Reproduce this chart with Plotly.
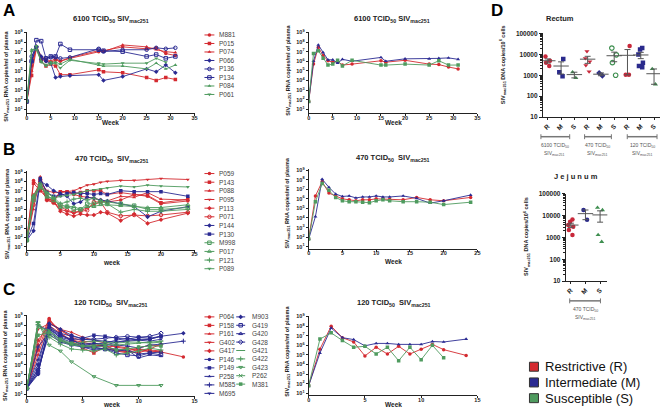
import numpy as np
import plotly.graph_objects as go

W, H = 664, 411
FONT = "Arial, 'Liberation Sans', sans-serif"
RED, BLUE, GREEN = "#d42a30", "#2a2a92", "#4f9b5f"
AXC = "#222222"
GRAY = "#555555"
LEGTXT = "#444444"

# ---------------- Panel A : 6100 TCID50 (log10 RNA copies/ml) ----------------
WEEKS_A = [0, 1, 2, 3, 4, 5, 6, 7, 9, 15, 16, 20, 25, 27, 29, 31]
A_M881 = [1.8, 5.5, 7.5, 6.2, 6.0, 5.9, 6.1, 6.0, 6.3, 7.0, 7.1, 7.5, 7.3, 7.4, 6.8, 6.6]
A_P015 = [1.8, 4.5, 7.3, 6.0, 5.5, 5.7, 5.5, 4.6, 4.6, 5.1, 4.9, 4.8, 4.3, 4.0, 4.3, 4.1]
A_P074 = [1.8, 5.0, 7.6, 6.5, 6.2, 6.0, 6.3, 6.0, 6.4, 7.1, 7.0, 7.7, 7.5, 7.2, 7.0, 6.9]
A_P066 = [1.8, 6.0, 7.5, 6.5, 6.0, 5.8, 4.3, 4.4, 4.5, 4.6, 4.0, 4.4, 5.2, 4.9, 5.6, 4.8]
A_P136 = [1.8, 6.5, 7.5, 6.2, 6.3, 6.4, 6.4, 6.3, 6.4, 7.3, 7.0, 7.2, 7.2, 7.4, 7.3, 7.4]
A_P134 = [1.8, 6.0, 8.2, 8.1, 6.3, 6.5, 6.5, 7.8, 7.2, 7.2, 7.1, 7.0, 6.5, 6.7, 6.3, 6.5]
A_P084 = [1.8, 7.2, 7.2, 6.0, 5.6, 5.9, 5.9, 5.7, 6.2, 5.6, 5.5, 5.5, 5.2, 5.8, 5.2, 5.6]
A_P061 = [1.8, 7.0, 7.6, 5.9, 5.5, 5.7, 5.8, 5.3, 6.1, 5.8, 5.7, 5.8, 5.8, 6.3, 5.9]
A_MEAN_R = [1.8, 5.7, 7.45, 6.6, 6.05, 5.9, 6.0, 5.6, 5.7, 6.05, 5.9, 6.1, 5.7, 5.65, 5.4, 5.2]
A_MEAN_M = [1.8, 6.0, 7.7, 6.9, 6.15, 6.15, 5.8, 6.2, 6.0, 6.4, 6.0, 6.25, 6.25, 6.3, 6.35, 6.2]
A_MEAN_S = [1.8, 6.8, 7.1, 6.3, 5.6, 5.7, 6.1, 5.5, 6.1, 5.6, 5.6, 5.7, 5.6, 6.05, 5.6, 5.6]

# ---------------- Panel B : 470 TCID50 ----------------
WEEKS_B = [0, 1, 2, 3, 4, 5, 6, 7, 8, 9, 10, 11, 12, 14, 16, 18, 20, 24]
B_P059 = [1.7, 8.1, 7.3, 6.1, 6.0, 6.9, 6.9, 6.6, 6.4, 6.3, 6.2, 6.0, 5.8, 6.0, 6.6, 6.4, 5.6, 5.9]
B_P143 = [1.7, 7.8, 7.0, 6.2, 5.8, 6.9, 6.9, 6.7, 6.8, 7.0, 7.0, 7.0, 6.6, 6.8, 6.6, 6.5, 5.7, 6.1]
B_P088 = [1.7, 5.0, 8.5, 6.5, 5.7, 5.0, 4.8, 4.6, 4.8, 5.2, 5.5, 5.8, 5.9, 6.4, 6.3, 6.8, 6.1, 6.0]
B_P095 = [1.7, 6.0, 8.0, 7.0, 6.8, 6.8, 6.9, 7.0, 7.3, 7.6, 7.7, 7.9, 8.0, 8.1, 8.1, 8.2, 8.3, 8.2]
B_P113 = [1.7, 6.5, 7.9, 6.0, 5.8, 4.8, 4.5, 4.3, 4.5, 4.4, 4.4, 4.7, 4.6, 3.8, 4.5, 3.5, 3.9, 4.6]
B_P071 = [1.7, 5.5, 8.2, 6.0, 5.7, 5.3, 4.9, 4.7, 4.8, 4.9, 5.8, 5.8, 4.7, 4.3, 4.4, 4.3, 4.4, 4.7]
B_P144 = [1.7, 2.7, 8.0, 7.6, 7.0, 6.7, 6.4, 5.6, 5.8, 6.3, 6.2, 6.0, 5.9, 5.6, 5.3, 4.2, 4.8, 5.3]
B_P130 = [1.7, 3.5, 8.3, 6.8, 6.4, 6.5, 6.7, 6.8, 6.7, 6.7, 6.6, 6.7, 6.6, 7.0, 6.9, 6.9, 6.9, 6.4]
B_M998 = [1.7, 6.0, 7.5, 6.5, 6.0, 5.5, 5.3, 5.0, 5.0, 5.6, 5.6, 5.8, 5.8, 5.6, 5.4, 5.0, 5.0, 5.2]
B_P017 = [1.7, 6.3, 7.8, 6.3, 6.2, 5.2, 5.3, 5.3, 5.0, 5.3, 5.3, 5.5, 5.5, 5.4, 5.3, 5.2, 5.2, 5.5]
B_P121 = [1.7, 6.4, 7.3, 6.8, 6.3, 5.6, 5.8, 6.1, 6.2, 6.0, 6.2, 5.9, 5.6, 4.7, 5.0, 4.8, 4.8, 5.0]
B_P089 = [1.7, 6.5, 7.5, 6.8, 6.2, 6.4, 6.5, 6.6, 6.8, 7.0, 7.1, 7.2, 7.3, 7.5, 7.4, 7.6, 7.5, 7.4]
B_MEAN_R = [1.8, 6.3, 7.8, 6.6, 6.3, 6.0, 5.9, 5.8, 5.9, 5.9, 6.0, 6.0, 5.95, 5.9, 6.15, 5.9, 5.8, 6.15]
B_MEAN_M = [1.8, 4.15, 8.05, 7.2, 6.5, 6.25, 6.3, 6.1, 6.2, 6.2, 6.3, 6.2, 6.2, 6.3, 6.05, 5.55, 5.8, 6.4]
B_MEAN_S = [1.8, 5.7, 7.6, 6.9, 6.15, 5.8, 5.7, 5.7, 5.65, 5.6, 5.8, 5.9, 5.8, 5.7, 5.7, 5.65, 5.4, 5.65]

# ---------------- Panel C : 120 TCID50 ----------------
WEEKS_C = [0, 1, 2, 3, 4, 5, 6, 7, 8, 9, 10, 11, 12, 14]
C_P064 = [1.6, 6.0, 8.7, 7.2, 6.4, 5.8, 5.9, 6.0, 5.4, 5.2, 5.6, 5.3, 5.3, 4.8]
C_P158 = [1.6, 5.5, 8.5, 7.5, 6.8, 5.7, 5.2, 5.8, 5.9, 5.7, 5.4, 5.4, 5.3]
C_P161 = [1.6, 5.0, 8.3, 7.6, 7.3, 6.8, 6.5, 6.2, 5.8, 5.6, 5.6, 5.5, 5.4]
C_G402 = [1.6, 7.6, 8.2, 7.6, 6.8, 6.4, 6.3, 5.7, 5.4, 5.4, 5.7, 6.0, 5.9]
C_G417 = [1.6, 6.5, 8.0, 7.2, 6.5, 6.3, 6.0, 5.9, 5.5, 5.3, 5.2, 5.6, 6.1]
C_P146 = [1.6, 3.0, 8.0, 7.0, 6.5, 6.1, 6.2, 6.0, 6.3, 6.5, 6.6, 6.6, 6.9]
C_P149 = [1.6, 3.2, 7.7, 7.2, 6.9, 6.7, 7.0, 6.9, 6.7, 6.6, 6.8, 6.7, 6.9]
C_P258 = [1.6, 4.5, 7.9, 6.7, 6.3, 5.8, 5.5, 5.6, 5.4, 5.5, 4.7, 5.0, 4.9]
C_M585 = [1.6, 5.8, 7.3, 6.4, 6.1, 5.9, 5.8, 6.0, 6.0, 5.9, 5.7, 6.0, 6.1, 6.4]
C_M695 = [1.6, 8.0, 7.5, 6.6, 6.0, 6.0, 6.1, 6.2, 6.5, 6.7, 6.5, 6.4, 6.6]
C_M903 = [1.6, 4.0, 8.2, 7.6, 7.0, 6.6, 6.5, 6.4, 6.3, 6.4, 6.5, 6.6, 6.9, 7.2]
C_G419 = [1.6, 3.2, 7.6, 6.8, 6.5, 6.0, 5.8, 5.6, 5.2, 5.0, 4.9, 5.2, 5.0]
C_G420 = [1.6, 3.5, 7.1, 6.3, 6.0, 5.8, 5.7, 5.6, 5.6, 5.5, 5.1, 5.2, 5.3]
C_G428 = [1.6, 3.6, 7.6, 7.0, 6.6, 6.6, 6.6, 6.7, 6.8, 6.9, 6.8, 6.9, 7.2]
C_G421 = [1.6, 8.3, 7.0, 6.4, 6.0, 5.9, 6.0, 6.1, 6.0, 6.1, 6.2, 6.3, 6.4]
C_G422 = [1.6, 8.1, 6.8, 6.1, 5.6, 5.5, 5.4, 5.6, 5.0, 5.2, 5.4, 5.7, 5.5]
C_G423 = [1.6, 8.3, 6.0, 5.4, 4.3, None, 2.8, None, 1.9, None, 1.9, None, 1.9]
C_P262 = [1.6, 7.8, 7.5, 6.5, 6.1, 6.3, 6.4, 6.3, 6.2, 6.3, 6.3, 6.2, 6.3]
C_M381 = [1.6, 7.0, 7.3, 6.6, 6.2, 5.9, 5.8, 5.9, 5.5, 5.6, 5.8, 5.9, 5.9]
C_MEAN_R = [1.8, 5.6, 8.0, 6.8, 6.35, 4.9, 5.8, 5.1, 5.9, 5.1, 5.6, 6.1, 5.55, 4.95]
C_MEAN_M = [1.8, 5.2, 7.8, 6.8, 6.6, 5.95, 6.2, 6.2, 6.1, 6.1, 6.1, 6.4, 6.35, 6.65]
C_MEAN_S = [1.8, 6.65, 7.3, 6.5, 5.8, 5.9, 5.1, 5.8, 4.4, 5.8, 4.5, 6.0, 4.7]

# ---------------- Panel D : DNA copies / 10^6 cells ----------------
REC_R6100 = [8000, 5000, 4000, 2800]
REC_M6100 = [6000, 900, 1400]
REC_S6100 = [1400, 750]
REC_R470 = [14000, 6500, 4500, 3000, 1500]
REC_M470 = [950, 1300]
REC_S470 = [20000, 9500, 4000, 1000]
REC_R120 = [25000, 1050, 1050]
REC_M120 = [20000, 17000, 10000, 4000, 2800, 2400]
REC_S120 = [2000, 370]
JEJ_R = [6600, 5200, 3700, 3100, 2200, 1300]
JEJ_M = [18000, 6500]
JEJ_S = [23000, 18000, 1300, 630]

REC_CATS = ["R 6100", "M 6100", "S 6100", "R 470", "M 470", "S 470", "R 120", "M 120", "S 120"]
JEJ_CATS = ["R 470j", "M 470j", "S 470j"]
RMS_LABELS = ["R", "M", "S"]
GROUP_LABELS = ["6100 TCID<sub>50</sub>", "470 TCID<sub>50</sub>", "120 TCID<sub>50</sub>"]
CLASS_LABELS = ["Restrictive (R)", "Intermediate (M)", "Susceptible (S)"]
LOG_TICKS = [10 ** k for k in range(1, 10)]
LOG_TICKTEXT = ["10<sup>%d</sup>" % k for k in range(1, 10)]

# ---------------- series styling ----------------
A_SERIES = [("M881", A_M881, RED, "circle"), ("P015", A_P015, RED, "square"),
            ("P074", A_P074, RED, "triangle-up"), ("P066", A_P066, BLUE, "diamond"),
            ("P136", A_P136, BLUE, "circle-open"), ("P134", A_P134, BLUE, "square-open"),
            ("P084", A_P084, GREEN, "triangle-up"), ("P061", A_P061, GREEN, "triangle-down")]
B_SERIES = [("P059", B_P059, RED, "circle"), ("P143", B_P143, RED, "square"),
            ("P088", B_P088, RED, "triangle-up"), ("P095", B_P095, RED, "triangle-down"),
            ("P113", B_P113, RED, "diamond"), ("P071", B_P071, RED, "circle-open"),
            ("P144", B_P144, BLUE, "diamond"), ("P130", B_P130, BLUE, "square"),
            ("M998", B_M998, GREEN, "square-open"), ("P017", B_P017, GREEN, "triangle-up-open"),
            ("P121", B_P121, GREEN, "cross-thin-open"), ("P089", B_P089, GREEN, "triangle-down")]
C_SERIES1 = [("P064", C_P064, RED, "circle"), ("P158", C_P158, RED, "square"),
             ("P161", C_P161, RED, "triangle-up"), ("G402", C_G402, RED, "triangle-down"),
             ("G417", C_G417, RED, "diamond"), ("P146", C_P146, BLUE, "circle"),
             ("P149", C_P149, BLUE, "square"), ("P258", C_P258, BLUE, "triangle-up"),
             ("M585", C_M585, BLUE, "cross-thin-open"), ("M695", C_M695, BLUE, "triangle-down")]
C_SERIES2 = [("M903", C_M903, BLUE, "diamond"), ("G419", C_G419, BLUE, "square-open"),
             ("G420", C_G420, BLUE, "triangle-up-open"), ("G428", C_G428, BLUE, "diamond-open"),
             ("G421", C_G421, GREEN, "line-ew-open"), ("G422", C_G422, GREEN, "cross-thin-open"),
             ("G423", C_G423, GREEN, "triangle-down-open"), ("P262", C_P262, GREEN, "x-thin-open"),
             ("M381", C_M381, GREEN, "square")]
MEAN_STYLE = [(RED, "circle"), (BLUE, "triangle-up"), (GREEN, "square")]


def fx(p):
    return p / W


def fy(p):
    return 1 - p / H


def font(size, bold=False, color=AXC):
    return dict(family=FONT, size=size, color=color, weight="bold" if bold else "normal")


def mk(sym, col, size):
    is_open = "open" in sym
    return dict(symbol=sym, size=size, color=col,
                line=dict(width=1 if is_open else 0, color=col))


fig = go.Figure()
layout = dict(width=W, height=H, margin=dict(l=0, r=0, t=0, b=0),
              paper_bgcolor="white", plot_bgcolor="rgba(0,0,0,0)", showlegend=False,
              boxmode="overlay")
annotations = []
shapes = []


def ann(text, x, y, size, bold=False, color=AXC, xanchor="center", yanchor="middle", angle=0):
    annotations.append(dict(text=text, x=fx(x), y=fy(y), xref="paper", yref="paper",
                            showarrow=False, font=font(size, bold, color), xanchor=xanchor,
                            yanchor=yanchor, textangle=angle, borderpad=0))


# ---------------- line panels ----------------
LINE_PANELS = [
    (1, (25, 194), (28, 111), 35, [0.59, 9.1], WEEKS_A, A_SERIES),
    (2, (309, 479), (28, 111), 35, [0.59, 9.1], WEEKS_A, None),
    (3, (25, 194), (170, 250), 25, [0.68, 9.1], WEEKS_B, B_SERIES),
    (4, (309, 479), (168, 249), 25, [0.79, 9.1], WEEKS_B, None),
    (5, (25, 194), (316, 399), 15, [0.8, 9.1], WEEKS_C, C_SERIES1 + C_SERIES2),
    (6, (309, 479), (317, 398), 15, [0.8, 9.1], WEEKS_C, None),
]
MEANS = {2: [A_MEAN_R, A_MEAN_M, A_MEAN_S], 4: [B_MEAN_R, B_MEAN_M, B_MEAN_S],
         6: [C_MEAN_R, C_MEAN_M, C_MEAN_S]}

for idx, (x0, x1), (y0, y1), xmax, yr, weeks, series in LINE_PANELS:
    sfx = "" if idx == 1 else str(idx)
    layout["xaxis" + sfx] = dict(domain=[fx(x0), fx(x1)], range=[0, xmax], dtick=5,
                                 anchor="y" + sfx, showline=True, linecolor=AXC, linewidth=1,
                                 ticks="outside", ticklen=2, tickwidth=1, tickcolor=AXC,
                                 ticklabelstandoff=-3,
                                 showgrid=False, zeroline=False, tickfont=font(5.5, True))
    layout["yaxis" + sfx] = dict(domain=[fy(y1), fy(y0)], type="log", range=yr,
                                 tickmode="array", tickvals=LOG_TICKS, ticktext=LOG_TICKTEXT,
                                 anchor="x" + sfx, showline=True, linecolor=AXC, linewidth=1,
                                 ticks="outside", ticklen=2, tickwidth=1, tickcolor=AXC,
                                 showgrid=False, zeroline=False, tickfont=font(5.5, True))
    if series is None:
        series = [(n, v, c, s) for (c, s), v, n in zip(MEAN_STYLE, MEANS[idx], "RMS")]
    for name, vals, col, sym in series:
        fig.add_trace(go.Scatter(
            x=weeks[:len(vals)], y=[None if v is None else 10 ** v for v in vals],
            xaxis="x" + sfx, yaxis="y" + sfx, mode="lines+markers", name=name,
            connectgaps=True, line=dict(color=col, width=0.9),
            marker=mk(sym, col, 3.5)))

# panel titles, axis titles
TITLE_A = "6100 TCID<sub>50</sub> SIV<sub>mac251</sub>"
TITLE_B = "470 TCID<sub>50</sub>  SIV<sub>mac251</sub>"
TITLE_C = "120 TCID<sub>50</sub>  SIV<sub>mac251</sub>"
YT = "SIV<sub>mac251</sub> RNA copies/ml of plasma"
for t, x, y in [(TITLE_A, 110, 15), (TITLE_A, 393, 15), (TITLE_B, 111, 158),
                (TITLE_B, 394, 157), (TITLE_C, 110, 304), (TITLE_C, 395, 304)]:
    ann(t, x, y, 7.5, True)
for x, y in [(5, 73), (289, 67), (5, 213), (288, 202), (4, 357), (288, 353)]:
    ann(YT, x, y, 5.5, True, angle=-90)
for t, x, y in [("Week", 109, 121), ("Week", 394, 121), ("week", 110, 263),
                ("Week", 394, 262), ("week", 110, 407), ("Week", 394, 407)]:
    ann(t, x, y, 6.5, True)
for t, x, y in [("A", 7, 7), ("B", 7, 148), ("C", 7, 290), ("D", 499, 7)]:
    ann(t, x, y, 17, True, color="#000000")

# ---------------- legend blocks (drawn on an overlay axis in pixel units) ----------------
LEG = "9"
layout["xaxis" + LEG] = dict(domain=[0, 1], range=[0, W], visible=False, anchor="y" + LEG)
layout["yaxis" + LEG] = dict(domain=[0, 1], range=[H, 0], visible=False, anchor="x" + LEG)


def legend_block(series, x0, x1, xt, ytop, dy):
    for i, (name, _, col, sym) in enumerate(series):
        yy = ytop + i * dy
        fig.add_shape(type="line", xref="x" + LEG, yref="y" + LEG, x0=x0, x1=x1, y0=yy, y1=yy,
                      line=dict(color=col, width=1), layer="above")
        fig.add_trace(go.Scatter(x=[(x0 + x1) / 2], y=[yy], mode="markers", xaxis="x" + LEG,
                                 yaxis="y" + LEG, hoverinfo="skip", marker=mk(sym, col, 3.5)))
        ann(name, xt, yy, 6.5, False, LEGTXT, xanchor="left")


legend_block(A_SERIES, 204, 214, 218, 31.5, 8.65)
legend_block(B_SERIES, 204, 214, 218, 172.5, 8.8)
legend_block(C_SERIES1, 204, 214, 218, 318.3, 8.65)
legend_block(C_SERIES2, 236, 245, 251, 318.3, 8.55)

# class legend (squares)
for i, (lab, (col, _)) in enumerate(zip(CLASS_LABELS, MEAN_STYLE)):
    yy = 369 + i * 16
    fig.add_trace(go.Scatter(x=[536], y=[yy], mode="markers", xaxis="x" + LEG, yaxis="y" + LEG,
                             hoverinfo="skip",
                             marker=dict(symbol="square", size=9, color=col,
                                         line=dict(width=1, color="#333333"))))
    ann(lab, 546, yy, 13, False, "#111111", xanchor="left")

# ---------------- panel D : dot plots ----------------
DOT_PANELS = [
    (7, (545, 663), (30, 115), [-0.37, 8.45], REC_CATS,
     [REC_R6100, REC_M6100, REC_S6100, REC_R470, REC_M470, REC_S470, REC_R120, REC_M120, REC_S120],
     ["circle", "square", "triangle-up", "triangle-down", "diamond", "circle-open",
      "circle", "square", "triangle-up"]),
    (8, (568, 610), (193, 282), [-0.35, 2.5], JEJ_CATS, [JEJ_R, JEJ_M, JEJ_S],
     ["circle", "circle", "triangle-up"]),
]
DOT_COLS = ["#c8283a", "#2a2a8c", "#3f8f50"]
MINOR = [m * 10 ** k for k in range(1, 5) for m in range(2, 10)]

for idx, (x0, x1), (y0, y1), xr, cats, groups, syms in DOT_PANELS:
    sfx = str(idx)
    layout["xaxis" + sfx] = dict(domain=[fx(x0), fx(x1)], type="category", range=xr,
                                 categoryorder="array", categoryarray=cats,
                                 tickmode="array", tickvals=cats,
                                 ticktext=RMS_LABELS * (len(cats) // 3),
                                 tickangle=-45, anchor="y" + sfx, showline=True,
                                 linecolor=AXC, linewidth=1, ticks="outside", ticklen=2,
                                 tickcolor=AXC, showgrid=False, zeroline=False,
                                 tickfont=font(6.5, True))
    layout["yaxis" + sfx] = dict(domain=[fy(y1), fy(y0)], type="log", range=[1, 5],
                                 tickmode="array", tickvals=[10, 100, 1000, 10000, 100000],
                                 ticktext=["10", "100", "1000", "10000", "100000"],
                                 anchor="x" + sfx, showline=True, linecolor=AXC, linewidth=1,
                                 ticks="outside", ticklen=3, tickcolor=AXC, showgrid=False,
                                 zeroline=False, tickfont=font(6.5, True),
                                 minor=dict(tickmode="array", tickvals=MINOR, ticks="outside",
                                            ticklen=1.5, tickcolor=AXC, showgrid=False))
    for i, (cat, vals, sym) in enumerate(zip(cats, groups, syms)):
        col = DOT_COLS[i % 3]
        fig.add_trace(go.Box(x=[cat] * len(vals), y=vals, xaxis="x" + sfx, yaxis="y" + sfx,
                             boxpoints="all", jitter=0.7, pointpos=0, width=0.6,
                             fillcolor="rgba(0,0,0,0)", line=dict(width=0, color="rgba(0,0,0,0)"),
                             marker=dict(symbol=sym, size=4.5, color=col,
                                         line=dict(width=1.2 if "open" in sym else 0,
                                                   color=col)),
                             hoveron="points"))
        arr = np.array(vals, dtype=float)
        mean = arr.mean()
        sem = arr.std(ddof=1) / np.sqrt(len(arr))
        fig.add_trace(go.Scatter(x=[cat], y=[mean], xaxis="x" + sfx, yaxis="y" + sfx,
                                 mode="markers",
                                 marker=dict(symbol="line-ew", size=11,
                                             line=dict(width=1, color=GRAY)),
                                 error_y=dict(type="data", array=[sem],
                                              arrayminus=[min(sem, mean - 11)], width=3,
                                              thickness=1, color=GRAY)))

ann("Rectum", 562, 15, 7.5, True)
ann("J e j u n u m", 578, 175, 7.5, True)
DT = "SIV<sub>mac251</sub> DNA copies/10<sup>6</sup> cells"
ann(DT, 505, 62, 5.5, True, angle=-90)
ann(DT, 529, 237, 5.5, True, angle=-90)

# group brackets under the dot plots
BRACKETS = [((543, 572), 135, 557, 0), ((587, 614), 135, 600, 1), ((630, 660), 135, 645, 2),
            ((572, 603), 302, 588, 1)]
for (bx0, bx1), by, cx, gi in BRACKETS:
    shapes.append(dict(type="line", xref="paper", yref="paper", x0=fx(bx0), x1=fx(bx1),
                       y0=fy(by), y1=fy(by), line=dict(color="#777777", width=1.5)))
    for bx in (bx0, bx1):
        shapes.append(dict(type="line", xref="paper", yref="paper", x0=fx(bx), x1=fx(bx),
                           y0=fy(by - 2.5), y1=fy(by + 2.5), line=dict(color="#777777", width=1)))
    ann(GROUP_LABELS[gi], cx, by + 9, 5, False, "#555555")
    ann("SIV<sub>mac251</sub>", cx, by + 17, 5, False, "#555555")

layout["annotations"] = annotations
fig.update_layout(**layout)
for s in shapes:
    fig.add_shape(**s)
fig.write_html("out.html", config={"displayModeBar": False},
               post_script="document.body.style.margin='0px';")
